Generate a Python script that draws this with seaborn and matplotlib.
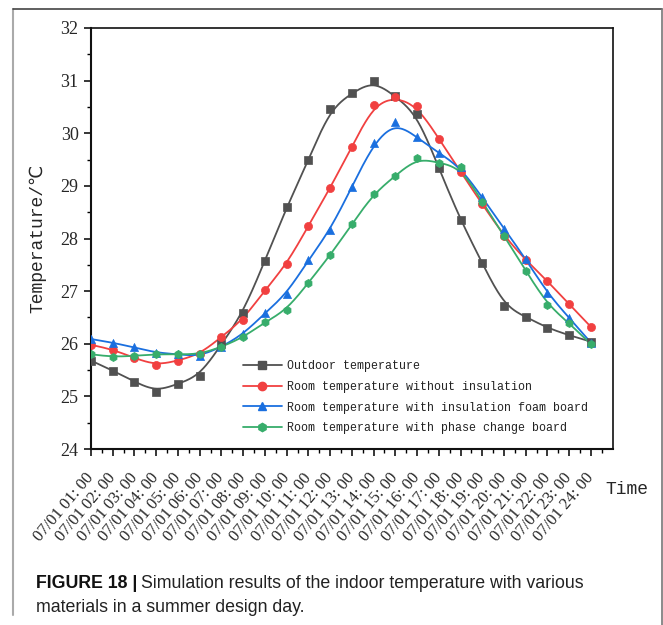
import numpy as np
import pandas as pd
import matplotlib
matplotlib.use("Agg")
import matplotlib.pyplot as plt
from matplotlib.lines import Line2D
import seaborn as sns

# ---------------- data ----------------
hours = list(range(1, 25))
tick_labels = [f"07/01 {h:02d}: 00" for h in hours]

outdoor = [25.68, 25.49, 25.28, 25.09, 25.24, 25.39, 25.99, 26.59, 27.58, 28.59,
           29.49, 30.46, 30.76, 31.00, 30.70, 30.36, 29.34, 28.35, 27.53, 26.72,
           26.51, 26.30, 26.16, 26.04]
no_insul = [25.98, 25.89, 25.73, 25.59, 25.68, 25.80, 26.13, 26.46, 27.02, 27.51,
            28.24, 28.96, 29.74, 30.54, 30.69, 30.52, 29.90, 29.27, 28.65, 28.05,
            27.59, 27.19, 26.75, 26.32]
foam = [26.09, 26.02, 25.93, 25.83, 25.80, 25.76, 25.94, 26.18, 26.58, 26.95,
        27.59, 28.16, 28.98, 29.81, 30.21, 29.92, 29.63, 29.35, 28.78, 28.19,
        27.61, 26.96, 26.49, 26.02]
pcm = [25.80, 25.75, 25.77, 25.80, 25.80, 25.80, 25.94, 26.12, 26.41, 26.64,
       27.16, 27.68, 28.27, 28.85, 29.19, 29.53, 29.44, 29.35, 28.70, 28.05,
       27.39, 26.74, 26.39, 25.99]

series_names = ["Outdoor temperature",
                "Room temperature without insulation",
                "Room temperature with insulation foam board",
                "Room temperature with phase change board"]
series_values = [outdoor, no_insul, foam, pcm]
colors = ["#515151", "#F14040", "#1A6FDF", "#37AD6B"]
markers = ["s", "o", "^", "h"]

y_ticks = [24, 25, 26, 27, 28, 29, 30, 31, 32]


def bspline_curve(xs, ys, n=24):
    """Uniform cubic B-spline (clamped) using the data points as control points."""
    P = np.column_stack([xs, ys]).astype(float)
    P = np.vstack([P[:1], P[:1], P, P[-1:], P[-1:]])
    t = np.linspace(0, 1, n, endpoint=False)
    B = np.column_stack([(1 - t) ** 3,
                         3 * t ** 3 - 6 * t ** 2 + 4,
                         -3 * t ** 3 + 3 * t ** 2 + 3 * t + 1,
                         t ** 3]) / 6.0
    out = [B @ P[i:i + 4] for i in range(len(P) - 3)]
    out.append(P[-1:])
    C = np.vstack(out)
    return C[:, 0], C[:, 1]


# ---------------- figure ----------------
sns.set_theme(style="ticks")
plt.rcParams["font.family"] = ["Liberation Serif", "DejaVu Serif"]

fig = plt.figure(figsize=(6.63, 6.25), dpi=100)
ax = fig.add_axes([91 / 663, 1 - 449 / 625, (612.7 - 91) / 663, (449 - 28) / 625])

for name, vals, c, m in zip(series_names, series_values, colors, markers):
    sx, sy = bspline_curve(hours, vals)
    sns.lineplot(x=sx, y=sy, ax=ax, color=c, lw=1.3, sort=False, legend=False,
                 estimator=None)
    df = pd.DataFrame({"h": hours, "v": vals})
    sns.scatterplot(data=df, x="h", y="v", ax=ax, color=c, marker=m, s=34,
                    edgecolor=c, linewidth=0.5, legend=False, zorder=3)

ax.set_xlim(1, 25)
ax.set_ylim(24, 32)
ax.set_xticks(hours)
ax.set_xticks(np.arange(1.5, 25, 1), minor=True)
ax.set_yticks(y_ticks)
ax.set_yticks(np.arange(24.5, 32, 1), minor=True)
ax.set_yticklabels([str(v) for v in y_ticks], fontsize=13,
                   family=["Liberation Serif"])
ax.set_xticklabels(tick_labels, rotation=50, ha="right", va="center",
                   rotation_mode="anchor", fontsize=12,
                   family=["Liberation Serif"])
ax.tick_params(axis="x", which="major", length=5, width=1.1, pad=14,
               direction="out", color="black")
ax.tick_params(axis="x", which="minor", length=3, width=1.0, direction="out",
               color="black")
ax.tick_params(axis="y", which="major", length=5, width=1.1, pad=4,
               direction="out", color="black")
ax.tick_params(axis="y", which="minor", length=3, width=1.0, direction="out",
               color="black")
ax.tick_params(top=False, right=False, which="both")
for sp in ax.spines.values():
    sp.set_visible(True)
    sp.set_color("#111111")
    sp.set_linewidth(1.2)
ax.spines["left"].set_linewidth(1.5)
ax.spines["bottom"].set_linewidth(1.5)

ax.set_xlabel("")
ax.set_ylabel("Temperature/℃", fontsize=13,
              family=["Liberation Mono", "DejaVu Sans"], labelpad=8)
ax.yaxis.set_label_coords(-0.085, 0.5)

fig.text(627 / 663, 1 - 489 / 625, "Time", fontsize=13, ha="center", va="center",
         family=["Liberation Mono"])

handles = [Line2D([0], [0], color=c, marker=m, lw=1.3, markersize=6,
                  markeredgecolor=c) for c, m in zip(colors, markers)]
leg = ax.legend(handles, series_names, loc="upper left",
                bbox_to_anchor=((243 - 91) / 521.7, (449 - 360) / 421),
                frameon=False, borderaxespad=0, borderpad=0,
                handlelength=3.3, handletextpad=0.5, labelspacing=0.75,
                prop={"family": "Liberation Mono", "size": 8.4})
for t in leg.get_texts():
    t.set_color("#222222")

# ---------------- caption + frame ----------------
fig.add_artist(Line2D([13 / 663, 13 / 663], [1 - 615 / 625, 1 - 9 / 625],
                      transform=fig.transFigure, color="#aaaaaa", lw=1.5))
fig.add_artist(Line2D([13 / 663, 662 / 663], [1 - 9 / 625, 1 - 9 / 625],
                      transform=fig.transFigure, color="#444444", lw=1.2))
fig.add_artist(Line2D([661.5 / 663, 661.5 / 663], [0, 1 - 9 / 625],
                      transform=fig.transFigure, color="#777777", lw=1.2))

cap_font = ["Liberation Sans", "DejaVu Sans"]
cap_size = 12.8
t1 = fig.text(36 / 663, 1 - 583 / 625, "FIGURE 18 |", fontsize=cap_size,
              fontweight="bold", family=cap_font, va="center", ha="left",
              color="#111111")
fig.canvas.draw()
bb = t1.get_window_extent(renderer=fig.canvas.get_renderer())
x_next = (bb.x1 + 4) / fig.bbox.width
fig.text(x_next, 1 - 583 / 625,
         "Simulation results of the indoor temperature with various",
         fontsize=cap_size, family=cap_font, va="center", ha="left",
         color="#222222")
fig.text(36 / 663, 1 - 607 / 625, "materials in a summer design day.",
         fontsize=cap_size, family=cap_font, va="center", ha="left",
         color="#222222")

fig.savefig("out.png", dpi=100)
